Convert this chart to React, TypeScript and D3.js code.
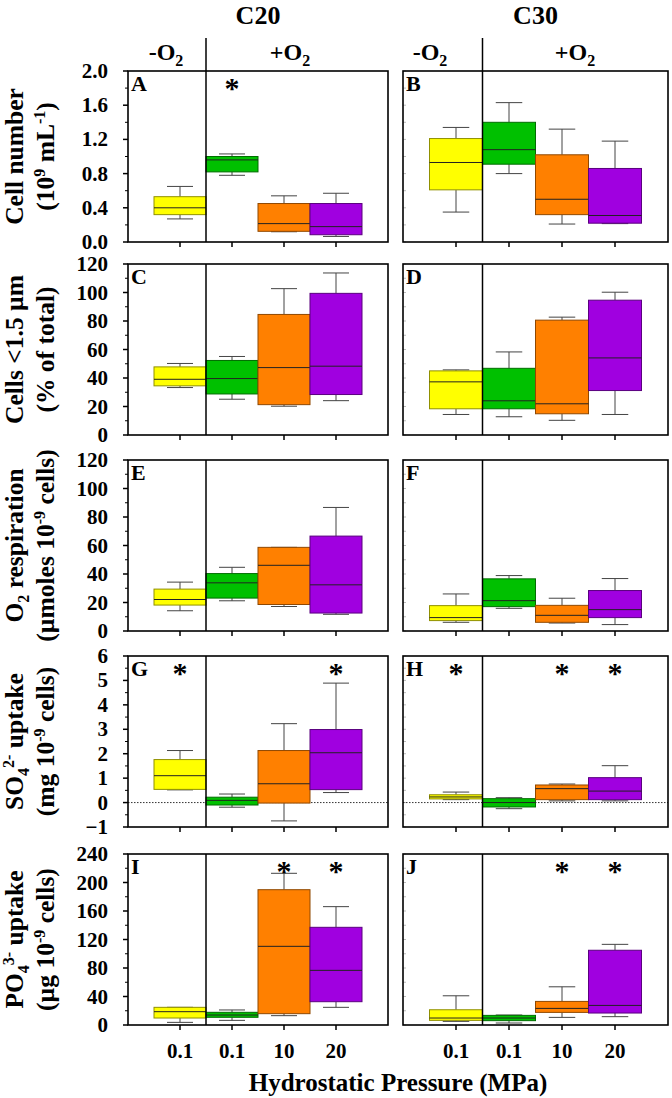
import React from "react";
import * as d3 from "d3";

// ---------- data ----------
const categories = ["0.1", "0.1", "10", "20"];
const boxColors = ["#ffff00", "#00c000", "#ff8000", "#a000e0"];
const columns = ["C20", "C30"];
const panelLetters = [["A", "B"], ["C", "D"], ["E", "F"], ["G", "H"], ["I", "J"]];

// each box: [lower whisker, Q1, median, Q3, upper whisker]
const cellNumberC20 = [[0.27, 0.32, 0.40, 0.53, 0.65], [0.78, 0.82, 0.96, 1.0, 1.03], [0.12, 0.125, 0.215, 0.45, 0.54], [0.065, 0.085, 0.18, 0.45, 0.57]];
const cellNumberC30 = [[0.35, 0.61, 0.93, 1.21, 1.34], [0.80, 0.91, 1.08, 1.40, 1.63], [0.21, 0.32, 0.50, 1.02, 1.32], [0.215, 0.22, 0.31, 0.86, 1.18]];
const smallCellsC20 = [[33.3, 34.5, 39.1, 47.8, 50.2], [25.1, 28.8, 39.6, 52.3, 55.1], [20.2, 21.3, 47.3, 84.6, 102.7], [24.1, 28.4, 48.3, 99.4, 113.7]];
const smallCellsC30 = [[14.4, 18.4, 37.3, 45.0, 45.7], [12.8, 18.4, 24.0, 46.8, 58.3], [10.3, 14.9, 21.9, 80.6, 82.7], [14.4, 31.2, 54.1, 94.6, 100.2]];
const respirationC20 = [[14.2, 18.2, 22.1, 29.4, 34.3], [21.2, 23.1, 33.8, 40.3, 44.7], [17.2, 18.6, 46.1, 58.7, 58.7], [11.7, 12.6, 32.4, 66.6, 86.7]];
const respirationC30 = [[6.1, 7.3, 9.4, 17.8, 26.0], [15.9, 17.1, 21.3, 36.6, 38.9], [5.6, 6.1, 11.0, 18.0, 23.0], [4.5, 9.4, 15.0, 28.4, 36.8]];
const sulfateC20 = [[0.52, 0.54, 1.10, 1.76, 2.13], [-0.19, -0.10, 0.09, 0.22, 0.35], [-0.75, -0.02, 0.77, 2.13, 3.23], [0.41, 0.53, 2.04, 2.99, 4.89]];
const sulfateC30 = [[0.12, 0.15, 0.23, 0.32, 0.43], [-0.25, -0.18, 0.0, 0.16, 0.20], [0.07, 0.12, 0.57, 0.72, 0.76], [0.07, 0.12, 0.47, 1.02, 1.51]];
const phosphateC20 = [[3.7, 9.8, 18.7, 24.8, 24.8], [6.5, 10.8, 14.0, 17.8, 21.1], [13.1, 15.9, 110.4, 189.9, 212.9], [24.8, 32.7, 76.7, 137.1, 166.1]];
const phosphateC30 = [[5.1, 6.5, 9.8, 21.4, 41.0], [2.8, 6.1, 9.8, 13.5, 14.0], [10.7, 17.7, 23.3, 33.1, 53.6], [11.7, 16.8, 27.5, 104.9, 113.2]];

const cellNumberTicks = [0, 0.4, 0.8, 1.2, 1.6, 2.0];
const smallCellsTicks = [0, 20, 40, 60, 80, 100, 120];
const respirationTicks = [0, 20, 40, 60, 80, 100, 120];
const sulfateTicks = [-1, 0, 1, 2, 3, 4, 5, 6];
const phosphateTicks = [0, 40, 80, 120, 160, 200, 240];

// significance stars: category index (0-based) per panel
const starsC20 = [[1], [], [], [0, 3], [2, 3]];
const starsC30 = [[], [], [], [0, 2, 3], [2, 3]];

// ---------- layout ----------
const W = 672;
const H = 1098;
const colX: [number, number][] = [[128, 388], [403, 668]];
const rowTops = [71, 264, 460, 656, 854];
const panelH = 171;
const FONT = "'Liberation Serif', 'Times New Roman', serif";

const rows = [
  { data: [cellNumberC20, cellNumberC30], ticks: cellNumberTicks, fmt: d3.format(".1f"), zero: false },
  { data: [smallCellsC20, smallCellsC30], ticks: smallCellsTicks, fmt: d3.format("d"), zero: false },
  { data: [respirationC20, respirationC30], ticks: respirationTicks, fmt: d3.format("d"), zero: false },
  { data: [sulfateC20, sulfateC30], ticks: sulfateTicks, fmt: d3.format("d"), zero: true },
  { data: [phosphateC20, phosphateC30], ticks: phosphateTicks, fmt: d3.format("d"), zero: false },
];
const stars = [starsC20, starsC30];

function Panel({ col, row }: { col: number; row: number }) {
  const r = rows[row];
  const [x0, x1] = colX[col];
  const top = rowTops[row];
  const bottom = top + panelH;
  const x = d3.scaleLinear().domain([0, 5]).range([x0, x1]);
  const y = d3.scaleLinear().domain([r.ticks[0], r.ticks[r.ticks.length - 1]]).range([bottom, top]);
  const minor = d3.pairs(r.ticks).map(([a, b]) => (a + b) / 2);
  const bw = x(1) - x(0);
  const stats = r.data[col];
  return (
    <g>
      {/* y ticks */}
      {col === 0 ? (
        <g>
          {r.ticks.map((t, i) => (
            <g key={"t" + i}>
              <line x1={x0 - 5} x2={x0} y1={y(t)} y2={y(t)} stroke="#000" strokeWidth={1.5} />
              <text x={108} y={y(t) + 7} textAnchor="end" fontSize={21} fontWeight="bold" fontFamily={FONT}>
                {r.fmt(t)}
              </text>
            </g>
          ))}
          {minor.map((t, i) => (
            <line key={"m" + i} x1={x0 - 3} x2={x0} y1={y(t)} y2={y(t)} stroke="#000" strokeWidth={1} />
          ))}
        </g>
      ) : (
        <g>
          {[...r.ticks, ...minor].map((t, i) => (
            <line key={"rt" + i} x1={x0} x2={x0 + 3} y1={y(t)} y2={y(t)} stroke="#bbb" strokeWidth={1} />
          ))}
        </g>
      )}
      {/* x ticks */}
      {categories.map((c, i) => (
        <line key={"xt" + i} x1={x(i + 1)} x2={x(i + 1)} y1={bottom} y2={bottom + 5} stroke="#000" strokeWidth={1.5} />
      ))}
      {r.zero && (
        <line x1={x0} x2={x1} y1={y(0)} y2={y(0)} stroke="#333" strokeWidth={1} strokeDasharray="1.5,1.5" />
      )}
      {/* boxes */}
      {stats.map((s, i) => {
        const cx = x(i + 1);
        const [lo, q1, med, q3, hi] = s;
        const fill = boxColors[i];
        const edge = d3.color(fill)!.darker(1.6).formatHex();
        return (
          <g key={"b" + i}>
            <line x1={cx} x2={cx} y1={y(hi)} y2={y(q3)} stroke="#444" strokeWidth={1} />
            <line x1={cx} x2={cx} y1={y(q1)} y2={y(lo)} stroke="#444" strokeWidth={1} />
            <line x1={cx - bw / 4} x2={cx + bw / 4} y1={y(hi)} y2={y(hi)} stroke="#444" strokeWidth={1} />
            <line x1={cx - bw / 4} x2={cx + bw / 4} y1={y(lo)} y2={y(lo)} stroke="#444" strokeWidth={1} />
            <rect x={cx - bw / 2} y={y(q3)} width={bw} height={Math.max(1, y(q1) - y(q3))} fill={fill} stroke={edge} strokeWidth={1} />
            <line x1={cx - bw / 2} x2={cx + bw / 2} y1={y(med)} y2={y(med)} stroke="#222" strokeWidth={1} />
          </g>
        );
      })}
      {/* separator */}
      <line x1={x(1.5)} x2={x(1.5)} y1={top} y2={bottom} stroke="#000" strokeWidth={1.5} />
      {/* frame */}
      <rect x={x0} y={top} width={x1 - x0} height={panelH} fill="none" stroke="#000" strokeWidth={1.6} />
      {/* letter */}
      <text x={x0 + 3} y={top + 20} fontSize={22} fontWeight="bold" fontFamily={FONT}>
        {panelLetters[row][col]}
      </text>
      {stars[col][row].map((ci) => (
        <text key={"s" + ci} x={x(ci + 1)} y={top + 27} textAnchor="middle" fontSize={30} fontWeight="bold" fontFamily={FONT}>
          *
        </text>
      ))}
      {/* x labels on bottom row */}
      {row === rows.length - 1 &&
        categories.map((c, i) => (
          <text key={"xl" + i} x={x(i + 1)} y={1058} textAnchor="middle" fontSize={21} fontWeight="bold" fontFamily={FONT}>
            {c}
          </text>
        ))}
    </g>
  );
}

const titleProps = { fontSize: 25.5, fontWeight: "bold" as const, fontFamily: FONT, textAnchor: "middle" as const };

function YTitle({ row, children }: { row: number; children: [React.ReactNode, React.ReactNode] }) {
  const cy = rowTops[row] + panelH / 2;
  return (
    <g>
      <text {...titleProps} transform={`translate(23,${cy}) rotate(-90)`}>{children[0]}</text>
      <text {...titleProps} transform={`translate(54,${cy}) rotate(-90)`}>{children[1]}</text>
    </g>
  );
}

export default function App() {
  return (
    <svg width={W} height={H} style={{ position: "absolute", left: 0, top: 0, background: "#fff" }}>
      <rect width={W} height={H} fill="#fff" />
      {/* header */}
      {columns.map((c, ci) => {
        const [x0, x1] = colX[ci];
        const x = d3.scaleLinear().domain([0, 5]).range([x0, x1]);
        return (
          <g key={c}>
            <text x={(x0 + x1) / 2} y={24} textAnchor="middle" fontSize={26} fontWeight="bold" fontFamily={FONT}>
              {c}
            </text>
            <line x1={x(1.5)} x2={x(1.5)} y1={38} y2={rowTops[0]} stroke="#000" strokeWidth={1.5} />
            <text x={ci === 0 ? 166 : 430} y={60} textAnchor="middle" fontSize={24} fontWeight="bold" fontFamily={FONT}>
              -O<tspan dy={6} fontSize={16}>2</tspan>
            </text>
            <text x={ci === 0 ? 290 : 575} y={60} textAnchor="middle" fontSize={24} fontWeight="bold" fontFamily={FONT}>
              +O<tspan dy={6} fontSize={16}>2</tspan>
            </text>
          </g>
        );
      })}
      {rows.map((r, ri) => (
        <g key={"row" + ri}>
          <Panel col={0} row={ri} />
          <Panel col={1} row={ri} />
        </g>
      ))}
      {/* y titles */}
      <YTitle row={0}>
        {[
          <>Cell number</>,
          <>(10<tspan dy={-9} fontSize={16}>9</tspan><tspan dy={9}> mL</tspan><tspan dy={-9} fontSize={16}>-1</tspan><tspan dy={9}>)</tspan></>,
        ]}
      </YTitle>
      <YTitle row={1}>{[<>Cells &lt;1.5 µm</>, <>(% of total)</>]}</YTitle>
      <YTitle row={2}>
        {[
          <>O<tspan dy={6} fontSize={16}>2</tspan><tspan dy={-6}> respiration</tspan></>,
          <>(µmoles 10<tspan dy={-9} fontSize={16}>-9</tspan><tspan dy={9}> cells)</tspan></>,
        ]}
      </YTitle>
      <YTitle row={3}>
        {[
          <>SO<tspan dy={6} fontSize={16}>4</tspan><tspan dy={-15} fontSize={16}>2-</tspan><tspan dy={9}> uptake</tspan></>,
          <>(mg 10<tspan dy={-9} fontSize={16}>-9</tspan><tspan dy={9}> cells)</tspan></>,
        ]}
      </YTitle>
      <YTitle row={4}>
        {[
          <>PO<tspan dy={6} fontSize={16}>4</tspan><tspan dy={-15} fontSize={16}>3-</tspan><tspan dy={9}> uptake</tspan></>,
          <>(µg 10<tspan dy={-9} fontSize={16}>-9</tspan><tspan dy={9}> cells)</tspan></>,
        ]}
      </YTitle>
      <text x={398} y={1091} textAnchor="middle" fontSize={25} fontWeight="bold" fontFamily={FONT}>
        Hydrostatic Pressure (MPa)
      </text>
    </svg>
  );
}
